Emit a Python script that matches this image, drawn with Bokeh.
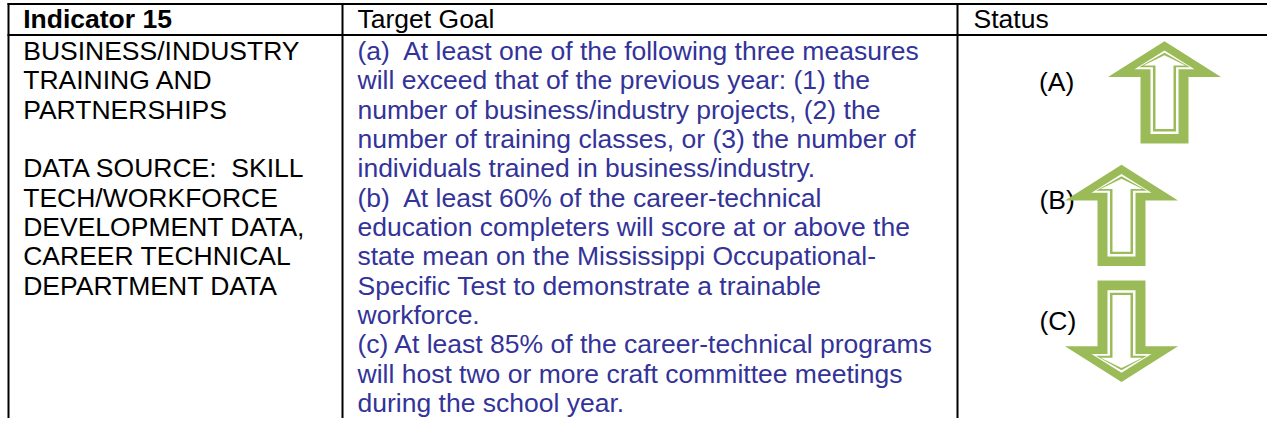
from bokeh.plotting import figure
from bokeh.models import Range1d
from bokeh.core.properties import value
from bokeh.embed import file_html
from bokeh.resources import INLINE

# ---------------- data ----------------
header_labels = ["Indicator 15", "Target Goal", "Status"]
indicator_lines = [
    "BUSINESS/INDUSTRY",
    "TRAINING AND",
    "PARTNERSHIPS",
    "",
    "DATA SOURCE:\u00a0 SKILL",
    "TECH/WORKFORCE",
    "DEVELOPMENT DATA,",
    "CAREER TECHNICAL",
    "DEPARTMENT DATA",
]
goal_lines = [
    "(a)\u00a0 At least one of the following three measures",
    "will exceed that of the previous year: (1) the",
    "number of business/industry projects, (2) the",
    "number of training classes, or (3) the number of",
    "individuals trained in business/industry.",
    "(b)\u00a0 At least 60% of the career-technical",
    "education completers will score at or above the",
    "state mean on the Mississippi Occupational-",
    "Specific Test to demonstrate a trainable",
    "workforce.",
    "(c) At least 85% of the career-technical programs",
    "will host two or more craft committee meetings",
    "during the school year.",
]
status_labels = ["(A)", "(B)", "(C)"]
status_directions = ["up", "up", "down"]

# ---------------- layout / style ----------------
W, H = 1267, 418
FONT = value("Liberation Sans")
FS = "26.5px"
BASE_SHIFT = 9.2          # anchor offset so that glyph baselines land where wanted
BLUE = "#333399"
GREEN = "#9BBB59"
WHITE = "#FFFFFF"

TOP_LINE = 3.5
HDR_LINE = 34.5
COL_LINES = [8, 342, 957]
TEXT_X = [22.7, 357, 973]
SY = 0.965


def Y(v):
    """reference vertical position in the body -> picture position"""
    return HDR_LINE + (v - HDR_LINE) * SY


def TB(baseline):
    return baseline - BASE_SHIFT


BODY_BASE0 = 60.7
PITCH = 30.4

p = figure(width=W, height=H,
           x_range=Range1d(0, W), y_range=Range1d(H, 0),
           x_axis_type=None, y_axis_type=None,
           toolbar_location=None, output_backend="svg", min_border=0)
p.outline_line_color = None
p.background_fill_color = WHITE
p.border_fill_color = WHITE

# table rules
p.segment(x0=[7, 7], y0=[TOP_LINE, HDR_LINE], x1=[W + 5, W + 5], y1=[TOP_LINE, HDR_LINE],
          line_color="black", line_width=2)
p.segment(x0=COL_LINES, y0=[TOP_LINE - 1] * 3, x1=COL_LINES, y1=[H + 5] * 3,
          line_color="black", line_width=2)

# header
p.text(x=[TEXT_X[0]], y=[TB(28)], text=[header_labels[0]], text_font=FONT, text_font_size=FS,
       text_font_style="bold", text_color="black", text_baseline="alphabetic")
p.text(x=TEXT_X[1:], y=[TB(28)] * 2, text=header_labels[1:], text_font=FONT, text_font_size=FS,
       text_color="black", text_baseline="alphabetic")

# column 1
ind_k = [k for k, t in enumerate(indicator_lines) if t]
p.text(x=[TEXT_X[0]] * len(ind_k), y=[TB(Y(BODY_BASE0 + k * PITCH)) for k in ind_k],
       text=[indicator_lines[k] for k in ind_k], text_font=FONT, text_font_size=FS,
       text_color="black", text_baseline="alphabetic")

# column 2
p.text(x=[TEXT_X[1]] * len(goal_lines),
       y=[TB(Y(BODY_BASE0 + k * PITCH)) for k in range(len(goal_lines))],
       text=goal_lines, text_font=FONT, text_font_size=FS,
       text_color=BLUE, text_baseline="alphabetic")

# column 3 labels
label_x = [1038.5, 1039, 1039]
label_base = [93, 215, 340]
p.text(x=label_x, y=[TB(Y(v)) for v in label_base], text=status_labels, text_font=FONT,
       text_font_size=FS, text_color="black", text_baseline="alphabetic")

# arrows
arrow_cx = [1164, 1121, 1121]
arrow_tip = [41, 169, 394]
arrow_total = [106, 105, 105]
HEAD = 37
layers = [  # colour, tip inset, base inset, half head width, half shaft width, end inset
    (GREEN, 0, 0, 56.5, 24, 0),
    (WHITE, 9.5, 8, 30, 14, 10),
    (GREEN, 12, 10, 25.5, 11.5, 12.5),
    (WHITE, 14.5, 12, 21, 9, 15),
]

for col, a, b, hw, sw, c in layers:
    xs_all, ys_all = [], []
    for cx, tip, tot, d in zip(arrow_cx, arrow_tip, arrow_total, status_directions):
        sg = 1 if d == "up" else -1
        t = tip + sg * a
        hb = t + sg * (HEAD - a - b)
        end = t + sg * (tot - a - c)
        xs = [cx, cx + hw, cx + sw, cx + sw, cx - sw, cx - sw, cx - hw]
        ys = [Y(v) for v in [t, hb, hb, end, end, hb, hb]]
        xs_all.append(xs)
        ys_all.append(ys)
    p.patches(xs=xs_all, ys=ys_all, fill_color=col, line_color=None)

open("out.html", "w").write(file_html(p, INLINE))
